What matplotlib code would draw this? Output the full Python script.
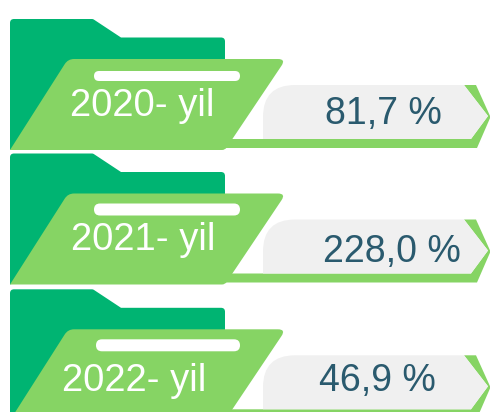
import numpy as np
import matplotlib
matplotlib.use("Agg")
import matplotlib.pyplot as plt
from matplotlib.path import Path
from matplotlib.patches import PathPatch, Rectangle

years = ["2020- yil", "2021- yil", "2022- yil"]
values = [81.7, 228.0, 46.9]

DARK, LIGHT, GREY, INK = "#00B472", "#86D464", "#F0F0F0", "#2A5A6E"
row_tops = [19, 153.5, 289.3]
pill_left = [94, 94, 96]
pill_top = [52, 50, 50]
year_pos = [(142, 116), (143, 249.5), (134, 391)]
value_pos = [(383, 124), (392, 262), (377, 391)]
FS_YEAR = 27.5
FS_VALUE = 27


def rounded(points, radii):
    """Closed polygon path with quadratic rounded corners."""
    pts = np.asarray(points, float)
    n = len(pts)
    verts, codes = [], []
    for i in range(n):
        p, prev, nxt = pts[i], pts[i - 1], pts[(i + 1) % n]
        r = radii[i]
        if r > 0:
            a = p + (prev - p) / np.linalg.norm(prev - p) * r
            b = p + (nxt - p) / np.linalg.norm(nxt - p) * r
            verts += [a, p, b]
            codes += [Path.MOVETO if i == 0 else Path.LINETO, Path.CURVE3, Path.CURVE3]
        else:
            verts.append(p)
            codes.append(Path.MOVETO if i == 0 else Path.LINETO)
    verts.append(verts[0])
    codes.append(Path.CLOSEPOLY)
    return Path(verts, codes)


fig = plt.figure(figsize=(4.9, 4.12), dpi=100)
ax = fig.add_axes([0, 0, 1, 1])
ax.set_xlim(0, 490)
ax.set_ylim(412, 0)
ax.axis("off")
clip = Rectangle((0, 0), 490, 411.5, transform=ax.transData)


def shape(points, radii, color, top, z):
    pts = [(x, y + top) for x, y in points]
    p = PathPatch(rounded(pts, radii), facecolor=color, edgecolor="none", zorder=z)
    ax.add_patch(p)
    p.set_clip_path(clip)


for i, top in enumerate(row_tops):
    # back of the folder
    shape([(10, 0), (93, 0), (121, 18.5), (225, 18.5), (225, 60), (10, 131)],
          [4, 1, 0, 4, 0, 0], DARK, top, 1)
    # arrow band: bottom strip and chevron on the right
    shape([(225, 120), (471, 120), (488, 97), (464, 66), (476, 66),
           (490.5, 98), (477, 129), (225, 129)],
          [0] * 8, LIGHT, top, 2)
    # grey value label
    shape([(263, 120), (263, 66), (464, 66), (488, 97), (471, 120)],
          [0, 32, 0, 1, 0], GREY, top, 3)
    # front panel of the folder
    shape([(10, 131), (68, 40), (286, 40), (225, 131)],
          [0, 6, 8, 3], LIGHT, top, 4)
    # white pill with fully round ends
    left = pill_left[i]
    y0 = pill_top[i]
    r = (62 - y0) / 2
    ax_pts = [(left + r, y0), (240 - r, y0), (240, y0), (240, y0 + r), (240, 62),
              (240 - r, 62), (left + r, 62), (left, 62), (left, y0 + r), (left, y0),
              (left + r, y0), (left + r, y0)]
    codes = [Path.MOVETO, Path.LINETO, Path.CURVE3, Path.CURVE3, Path.CURVE3, Path.CURVE3,
             Path.LINETO, Path.CURVE3, Path.CURVE3, Path.CURVE3, Path.CURVE3, Path.CLOSEPOLY]
    pill = PathPatch(Path([(x, y + top) for x, y in ax_pts], codes),
                     facecolor="white", edgecolor="none", zorder=5)
    ax.add_patch(pill)
    # texts
    ax.text(*year_pos[i], years[i], color="white", fontsize=FS_YEAR, family="Liberation Sans",
            ha="center", va="baseline", zorder=6)
    label = f"{values[i]:.1f}".replace(".", ",") + " %"
    ax.text(*value_pos[i], label, color=INK, fontsize=FS_VALUE, family="Liberation Sans",
            ha="center", va="baseline", zorder=6)

fig.savefig("out.png", dpi=100)
